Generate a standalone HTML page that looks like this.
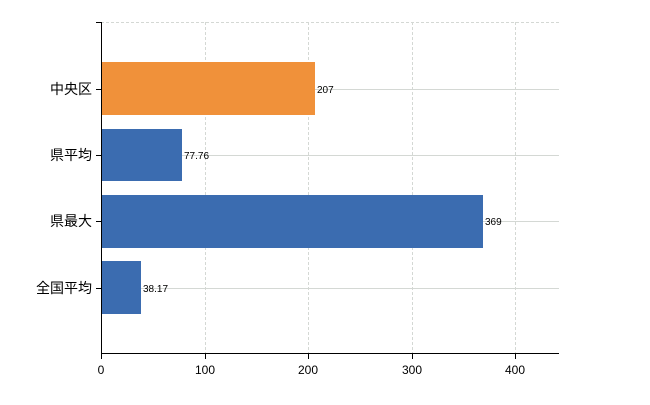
<!DOCTYPE html>
<html><head><meta charset="utf-8"><style>body{margin:0;background:#fff}</style></head><body>
<svg width="650" height="400" xmlns="http://www.w3.org/2000/svg" font-family="Liberation Sans, Noto Sans CJK JP, sans-serif">
<g stroke="#d4d8d4" stroke-width="1">
<line x1="101" y1="22.5" x2="559" y2="22.5" stroke-dasharray="3,2"/>
<line x1="205.5" y1="22" x2="205.5" y2="353" stroke-dasharray="3,2"/>
<line x1="308.5" y1="22" x2="308.5" y2="353" stroke-dasharray="3,2"/>
<line x1="412.5" y1="22" x2="412.5" y2="353" stroke-dasharray="3,2"/>
<line x1="515.5" y1="22" x2="515.5" y2="353" stroke-dasharray="3,2"/>
<line x1="101" y1="89.5" x2="559" y2="89.5"/>
<line x1="101" y1="155.5" x2="559" y2="155.5"/>
<line x1="101" y1="221.5" x2="559" y2="221.5"/>
<line x1="101" y1="288.5" x2="559" y2="288.5"/>
</g>
<rect x="101" y="62" width="214" height="53" fill="#f0913a"/>
<rect x="101" y="129" width="81" height="52" fill="#3b6cb0"/>
<rect x="101" y="195" width="382" height="53" fill="#3b6cb0"/>
<rect x="101" y="261" width="40" height="53" fill="#3b6cb0"/>
<g font-size="10" fill="#000">
<text x="317" y="93">207</text>
<text x="184" y="159">77.76</text>
<text x="485" y="225">369</text>
<text x="143" y="292">38.17</text>
</g>
<g stroke="#000" stroke-width="1">
<line x1="101.5" y1="22" x2="101.5" y2="353"/>
<line x1="96" y1="22.5" x2="101" y2="22.5"/>
<line x1="96" y1="89.5" x2="101" y2="89.5"/>
<line x1="96" y1="155.5" x2="101" y2="155.5"/>
<line x1="96" y1="221.5" x2="101" y2="221.5"/>
<line x1="96" y1="288.5" x2="101" y2="288.5"/>
<line x1="101" y1="353.5" x2="559" y2="353.5"/>
<line x1="101.5" y1="353" x2="101.5" y2="359"/>
<line x1="205.5" y1="353" x2="205.5" y2="359"/>
<line x1="308.5" y1="353" x2="308.5" y2="359"/>
<line x1="412.5" y1="353" x2="412.5" y2="359"/>
<line x1="515.5" y1="353" x2="515.5" y2="359"/>
</g>
<g font-size="14" fill="#000" text-anchor="end">
<text x="92" y="94">中央区</text>
<text x="92" y="160">県平均</text>
<text x="92" y="226">県最大</text>
<text x="92" y="293">全国平均</text>
</g>
<g font-size="12" fill="#000" text-anchor="middle">
<text x="101" y="374">0</text>
<text x="205" y="374">100</text>
<text x="308" y="374">200</text>
<text x="412" y="374">300</text>
<text x="515" y="374">400</text>
</g>
</svg>
</body></html>
